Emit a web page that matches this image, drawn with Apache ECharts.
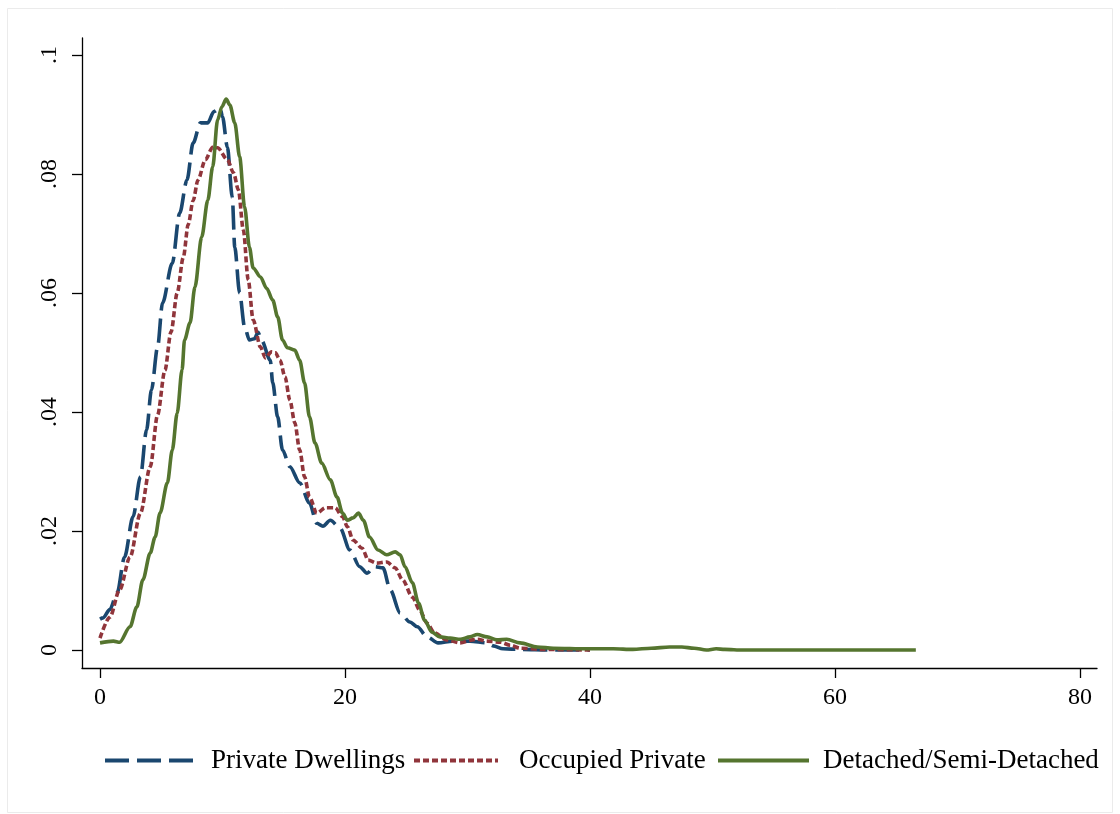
<!DOCTYPE html>
<html>
<head>
<meta charset="utf-8">
<script src="https://cdn.jsdelivr.net/npm/echarts@6/dist/echarts.min.js"></script>
<style>html,body{margin:0;padding:0;background:#fff}#c{width:1120px;height:814px}</style>
</head>
<body>
<div id="c"></div>
<script>
// ---- data ----
const seriesNames = ['Private Dwellings', 'Occupied Private', 'Detached/Semi-Detached'];

const privX = [0, 0.25, 0.8, 1.4, 2.0, 2.7, 3.3, 3.8, 4.2, 4.7, 5.1, 5.9, 6.5, 7.1, 7.6, 8.2, 8.8, 9.3, 9.8, 10.0, 10.4, 10.8, 11.0, 11.4, 11.8, 12.2, 12.6, 12.9, 13.2, 13.9, 14.1, 14.5, 14.9, 15.5, 16.3, 17.1, 17.7, 18.2, 18.8, 19.6, 20.4, 21.2, 21.8, 22.4, 23.1, 23.7, 24.5, 25.3, 25.9, 26.7, 27.6, 28.8, 30.2, 31.6, 32.1, 32.9, 34.3, 36.7, 40];
const privY = [0.0052, 0.0054, 0.0068, 0.0096, 0.0156, 0.0224, 0.0291, 0.0370, 0.0437, 0.0509, 0.0583, 0.0650, 0.0734, 0.0790, 0.0852, 0.0886, 0.0886, 0.0905, 0.0911, 0.0896, 0.0845, 0.0761, 0.0677, 0.0600, 0.0543, 0.0521, 0.0523, 0.0534, 0.0520, 0.0487, 0.0449, 0.0392, 0.0336, 0.0308, 0.0281, 0.0247, 0.0213, 0.0208, 0.0218, 0.0205, 0.0168, 0.0140, 0.0129, 0.0140, 0.0138, 0.0101, 0.0062, 0.0047, 0.0039, 0.0022, 0.0012, 0.0015, 0.0015, 0.0012, 0.0007, 0.0002, 0.0001, 0, 0];

const occX = [0, 0.8, 1.6, 2.45, 3.3, 4.1, 4.7, 5.3, 5.8, 6.3, 6.8, 7.2, 7.6, 8.0, 8.6, 9.2, 9.6, 10.4, 10.9, 11.3, 11.7, 12.1, 12.5, 13.1, 13.5, 14.0, 14.3, 14.7, 15.1, 15.5, 15.9, 16.3, 16.7, 17.1, 17.7, 18.4, 19.2, 19.8, 20.2, 20.65, 21.4, 21.9, 22.6, 23.4, 24.1, 24.7, 25.5, 26.1, 26.7, 27.3, 28.3, 29.4, 30.4, 30.8, 31.6, 32.7, 33.5, 34.3, 36, 40];
const occY = [0.0020, 0.0055, 0.0101, 0.0156, 0.0230, 0.0308, 0.0395, 0.0470, 0.0535, 0.0600, 0.0660, 0.0715, 0.0755, 0.0790, 0.0824, 0.0845, 0.0844, 0.0824, 0.0802, 0.0773, 0.0706, 0.0622, 0.0555, 0.0509, 0.0491, 0.0501, 0.0500, 0.0487, 0.0459, 0.0420, 0.0382, 0.0336, 0.0291, 0.0257, 0.0230, 0.0239, 0.0239, 0.0224, 0.0207, 0.0185, 0.0171, 0.0151, 0.0146, 0.0148, 0.0138, 0.0118, 0.0089, 0.0067, 0.0045, 0.0029, 0.0017, 0.0012, 0.0017, 0.0018, 0.0015, 0.0013, 0.0008, 0.0003, 0.0001, 0];

const detX = [0, 1.1, 1.6, 2.45, 3.0, 3.5, 4.1, 4.5, 4.9, 5.5, 5.9, 6.3, 6.7, 6.9, 7.35, 7.75, 8.3, 8.8, 9.2, 9.6, 9.95, 10.3, 10.6, 11.0, 11.4, 11.8, 12.2, 12.5, 13.1, 13.6, 14.1, 14.5, 14.9, 15.3, 15.9, 16.3, 16.7, 17.1, 17.55, 18.1, 18.8, 19.35, 19.8, 20.2, 20.65, 21.1, 21.5, 22.0, 22.7, 23.4, 24.1, 24.5, 24.9, 25.5, 26.0, 26.5, 27.1, 27.75, 28.6, 29.4, 30.2, 30.8, 31.6, 32.4, 33.2, 34.3, 35.7, 37, 39.7, 41.9, 43.5, 45, 46.5, 47.5, 48.5, 49.5, 50.3, 51, 52.5, 66.6];
const detY = [0.0012, 0.0015, 0.0013, 0.0039, 0.0072, 0.0118, 0.0163, 0.0190, 0.0230, 0.0281, 0.0336, 0.0398, 0.0471, 0.0521, 0.0550, 0.0610, 0.0694, 0.0756, 0.0812, 0.0891, 0.0913, 0.0926, 0.0916, 0.0886, 0.0829, 0.0745, 0.0677, 0.0642, 0.0627, 0.0608, 0.0588, 0.0560, 0.0521, 0.0508, 0.0504, 0.0487, 0.0449, 0.0392, 0.0348, 0.0314, 0.0286, 0.0257, 0.0230, 0.0218, 0.0222, 0.0230, 0.0218, 0.0190, 0.0168, 0.0160, 0.0165, 0.0160, 0.0140, 0.0113, 0.0079, 0.0050, 0.0030, 0.0022, 0.0020, 0.0018, 0.0022, 0.0026, 0.0022, 0.0017, 0.0018, 0.0012, 0.0005, 0.0003, 0.0002, 0.0002, 0.0001, 0.0003, 0.0005, 0.0005, 0.0003, 0.0000, 0.0002, 0.0001, 0, 0];

const xTicks = [0, 20, 40, 60, 80];
const yTicks = [0, 0.02, 0.04, 0.06, 0.08, 0.1];
const yTickLabels = ['0', '.02', '.04', '.06', '.08', '.1'];

// ---- chart ----
const colors = ['#1a476f', '#90353b', '#55752f'];
const dashes = [[24, 8], [6, 3], 'solid'];
const FONT = '"Liberation Serif", "Times New Roman", serif';

function pairs(xs, ys) { return xs.map((x, i) => [x, ys[i]]); }
const allData = [pairs(privX, privY), pairs(occX, occY), pairs(detX, detY)];

const legendPos = [
  { left: 103, itemWidth: 90, pad: 11 },
  { left: 412, itemWidth: 84, pad: 16 },
  { left: 716, itemWidth: 91, pad: 9 }
];

const chart = echarts.init(document.getElementById('c'), null, { renderer: 'canvas' });
chart.setOption({
  animation: false,
  backgroundColor: '#fff',
  graphic: [{
    type: 'rect', z: -1, silent: true,
    shape: { x: 7.5, y: 8.5, width: 1105, height: 804 },
    style: { fill: 'none', stroke: '#ebebeb', lineWidth: 1 }
  }],
  grid: { left: 82, right: 23, top: 38, bottom: 146, containLabel: false },
  xAxis: {
    type: 'value', min: -1.47, max: 81.39,
    axisLine: { show: true, onZero: false, lineStyle: { color: '#000', width: 1.3 } },
    axisTick: { show: true, customValues: xTicks, length: 10, lineStyle: { color: '#000', width: 1.3 } },
    axisLabel: { customValues: xTicks, color: '#000', fontFamily: FONT, fontSize: 24, margin: 18 },
    splitLine: { show: false }
  },
  yAxis: {
    type: 'value', min: -0.003025, max: 0.102857,
    axisLine: { show: true, onZero: false, lineStyle: { color: '#000', width: 1.3 } },
    axisTick: { show: true, customValues: yTicks, length: 10, lineStyle: { color: '#000', width: 1.3 } },
    axisLabel: {
      customValues: yTicks, rotate: 90, color: '#000', fontFamily: FONT, fontSize: 24, margin: 20,
      formatter: function (v) {
        let best = 0;
        yTicks.forEach((t, i) => { if (Math.abs(t - v) < Math.abs(yTicks[best] - v)) best = i; });
        return yTickLabels[best];
      }
    },
    splitLine: { show: false }
  },
  legend: seriesNames.map((n, i) => ({
    data: [n], left: legendPos[i].left, top: 747,
    itemWidth: legendPos[i].itemWidth, itemHeight: 28, padding: 0,
    itemStyle: { opacity: 0 },
    lineStyle: { width: 4, type: dashes[i], color: colors[i] },
    textStyle: { color: '#000', fontFamily: FONT, fontSize: 27, padding: [0, 0, 0, legendPos[i].pad] },
    selectedMode: false
  })),
  series: seriesNames.map((n, i) => ({
    name: n, type: 'line', data: allData[i],
    showSymbol: false, symbol: 'none',
    smooth: 0.3, smoothMonotone: 'x',
    color: colors[i],
    lineStyle: { color: colors[i], width: 3.6, type: dashes[i], cap: 'butt' }
  }))
});
</script>
</body>
</html>
